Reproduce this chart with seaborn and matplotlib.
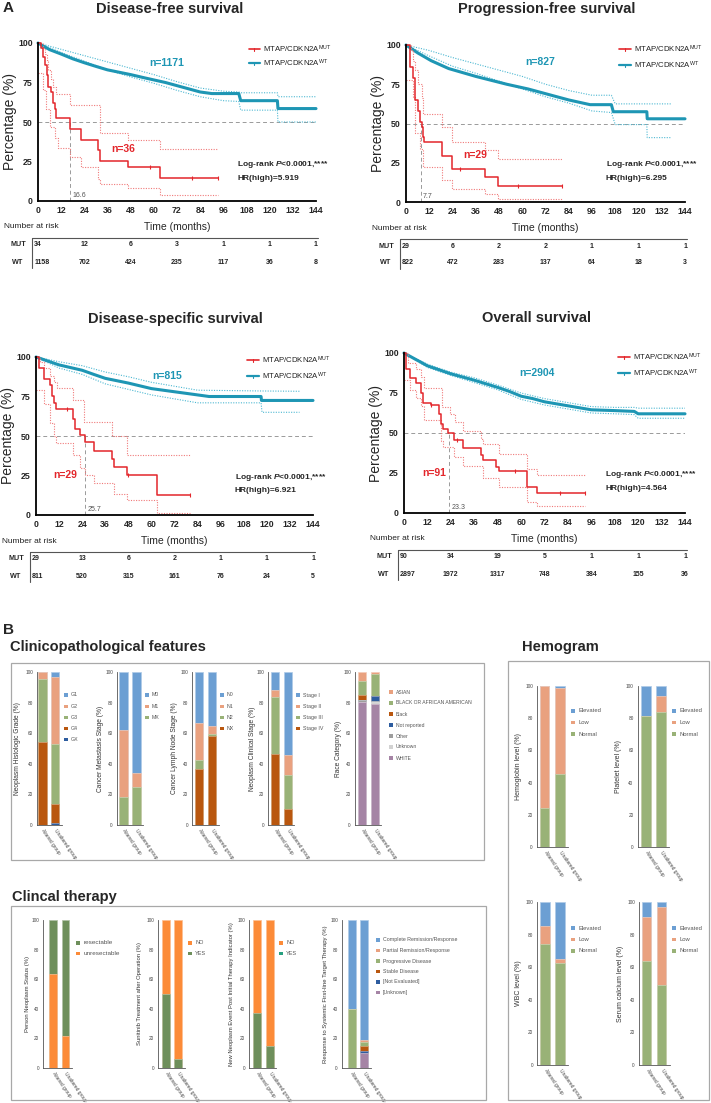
import numpy as np
import pandas as pd
import matplotlib.pyplot as plt
import matplotlib.transforms as mtrans
from matplotlib.lines import Line2D
from matplotlib.patches import Rectangle
from matplotlib.colors import to_rgb
import seaborn as sns

sns.set_style('white')
plt.rcParams['font.family'] = ['Liberation Sans', 'DejaVu Sans']
plt.rcParams['mathtext.fontset'] = 'custom'
plt.rcParams['mathtext.rm'] = 'Liberation Sans'
plt.rcParams['mathtext.bf'] = 'Liberation Sans:bold'
plt.rcParams['mathtext.it'] = 'Liberation Sans:italic'
plt.rcParams['mathtext.bfit'] = 'Liberation Sans:italic:bold'

W, H = 711, 1103

# ---------------- A: Kaplan-Meier data (time in months, survival in %) ----------------
months = [0, 24, 48, 72, 96, 120, 144]

dfs_mut = [(0, 100), (1.7, 97), (2.6, 91), (3.5, 86), (4.5, 80), (5.2, 72), (6.9, 69), (7.8, 62),
           (8.7, 58), (9.5, 52.6), (16.4, 45.5), (22.5, 38.5), (31.1, 32), (32, 25.5),
           (46.7, 21.5), (63.1, 14.3), (93.4, 14.3)]
dfs_mut_hi = [(0, 100), (2.6, 97), (3.5, 93), (4.5, 89), (5.2, 83), (6.9, 77), (7.8, 72), (9.5, 68),
              (16.4, 61), (32, 43), (46.7, 38.5), (63.1, 33), (93.4, 33)]
dfs_mut_lo = [(0, 81), (2.6, 70), (4.3, 58), (6, 47), (8.7, 40), (10.4, 33.5), (16.4, 28), (22.5, 21.5),
              (31.1, 14), (32, 11), (46.7, 8.5), (63.1, 3.5), (93.4, 3.5)]
dfs_mut_cens = [(58, 21.5), (80, 14.3), (93.4, 14.3)]
dfs_wt = [(0, 100), (6, 95.8), (12, 93), (18, 90), (24, 87.5), (30, 85.2), (36, 83), (48, 80), (55, 78),
          (66, 75), (75, 72), (84, 69), (90, 68), (104, 68), (105, 63.5), (124, 63.5), (124.3, 58.5),
          (144, 58.5)]
dfs_wt_hi = [(0, 100), (12, 96), (24, 92), (36, 88), (48, 84), (60, 80), (72, 75.5), (84, 71.5),
             (96, 69.5), (104, 69), (105, 68.5), (124, 68.5), (124.3, 66), (144, 66)]
dfs_wt_lo = [(0, 100), (12, 94), (24, 88.5), (36, 83), (48, 78.5), (60, 74.5), (72, 70), (84, 66),
             (96, 63.5), (104, 63), (105, 57.5), (124, 57.5), (124.3, 50), (144, 50)]
dfs_risk_mut = [34, 12, 6, 3, 1, 1, 1]
dfs_risk_wt = [1158, 702, 424, 235, 117, 36, 8]

pfs_mut = [(0, 100), (2, 86), (3.8, 79), (4.6, 65), (6.4, 58), (7.2, 51), (8.1, 48), (9, 41.5),
           (9.5, 38), (18.4, 29.5), (23.6, 21), (40.8, 16), (47.7, 10.5), (80.4, 10.5)]
pfs_mut_hi = [(0, 100), (2.5, 97), (3.8, 90), (4.6, 84), (6.4, 75), (8, 66), (9, 56), (18.4, 48),
              (23.6, 38.5), (40.8, 33), (47.7, 27.5), (80.4, 27.5)]
pfs_mut_lo = [(0, 78), (3.8, 67), (4.6, 44), (7, 34), (9, 22), (18.4, 14), (23.6, 8), (40.8, 5),
              (47.7, 2), (80.4, 2)]
pfs_mut_cens = [(28, 21), (58, 10.5), (80.4, 10.5)]
pfs_wt = [(0, 100), (6, 95), (13, 90), (22, 85), (36, 80), (52, 75), (63, 72), (75, 68), (84, 65),
          (95, 62), (106, 62), (107, 57.5), (124.3, 57.5), (124.5, 53), (144, 53)]
pfs_wt_hi = [(0, 100), (12, 96.5), (24, 92), (36, 88), (48, 84), (60, 80), (72, 75), (84, 71),
             (96, 68), (106, 68), (108, 62.5), (137, 62.5)]
pfs_wt_lo = [(0, 100), (12, 93), (24, 86.5), (36, 82), (48, 77), (60, 72), (72, 67), (84, 63),
             (96, 58), (106, 57), (108, 49.3), (124.3, 49.3), (124.5, 41), (137, 41)]
pfs_risk_mut = [29, 6, 2, 2, 1, 1, 1]
pfs_risk_wt = [822, 472, 283, 137, 64, 18, 3]

dss_mut = [(0, 100), (1.7, 93), (4, 86), (7.1, 82), (8.3, 75.5), (9.5, 71), (10.5, 67), (19.2, 61),
           (20.4, 54.5), (23, 50.5), (25.6, 46), (30.4, 40.5), (39.4, 35.5), (40.3, 30.5),
           (47.2, 25.5), (62.7, 12.8), (80, 12.8)]
dss_mut_hi = [(0, 100), (2, 97), (4, 93), (7.1, 88), (9.5, 84), (10.9, 80.5), (19.2, 72.6),
              (24.7, 59), (39.4, 50), (47.2, 38), (80, 38)]
dss_mut_lo = [(0, 79), (4, 70), (7.1, 58), (9.5, 50), (10.5, 45.5), (19.2, 38), (23, 30),
              (25.6, 25.5), (30.4, 20.5), (40.3, 13), (47.2, 9.8), (62.7, 1.4), (80, 1.4)]
dss_mut_cens = [(16, 67), (48, 25.5), (80, 12.8)]
dss_wt = [(0, 100), (6, 97.5), (12, 95), (24, 91.6), (30, 89), (36, 86.5), (48, 83.5), (60, 80),
          (72, 78), (84, 76), (90, 75), (117, 75), (117.2, 72.5), (144, 72.5)]
dss_wt_hi = [(0, 100), (12, 97), (24, 94.5), (36, 90.5), (48, 87.5), (60, 84), (72, 81.5), (84, 79),
             (117, 78.5), (137, 78.3)]
dss_wt_lo = [(0, 100), (12, 93), (24, 89), (36, 83), (48, 79.5), (60, 76), (72, 73.5), (84, 71),
             (117, 71), (117.5, 65), (137, 65)]
dss_risk_mut = [29, 13, 6, 2, 1, 1, 1]
dss_risk_wt = [811, 520, 315, 161, 76, 24, 5]

os_mut = [(0, 100), (0.9, 90), (2.9, 84.5), (6.3, 81), (8.5, 75), (9.7, 68.5), (14, 67.5), (18, 62),
          (18.8, 55.5), (20, 52.5), (22.6, 50), (25.7, 45.5), (30.3, 40.5), (39.3, 36), (40.5, 33),
          (47.4, 29), (48.6, 26), (62.8, 16), (68.4, 12.5), (93, 12.5)]
os_mut_hi = [(0, 100), (2, 94), (6, 90), (8.5, 85), (10, 78), (19.5, 66), (23.4, 62), (26, 57),
             (30.3, 51.5), (39.3, 46), (40.5, 43), (48.6, 37), (62.8, 27.5), (68.4, 24), (93, 24)]
os_mut_lo = [(0, 83), (3, 77), (6, 72), (8.5, 67), (10, 58), (18.8, 45), (20, 41), (25.7, 35),
             (30.3, 29.5), (40.5, 22), (48.6, 16.5), (62.8, 7), (68.4, 4.5), (93, 4.5)]
os_mut_cens = [(14, 67.5), (27, 45.5), (57, 26), (80, 12.5), (93, 12.5)]
os_wt = [(0, 100), (6, 96), (12, 92), (24, 87), (36, 83), (48, 78.5), (54, 76), (60, 73), (66, 71.5),
         (72, 69.5), (84, 67), (96, 64.5), (108, 64), (118, 63.5), (120, 62), (144, 62)]
os_wt_hi = [(0, 100), (12, 93), (24, 88), (36, 84.5), (48, 80), (60, 75), (72, 71.5), (84, 69),
            (96, 66.5), (108, 66), (118, 66), (120, 65.5), (144, 65.5)]
os_wt_lo = [(0, 100), (12, 91), (24, 86), (36, 81.5), (48, 77), (60, 71), (72, 67.5), (84, 65),
            (96, 62.5), (108, 62), (118, 61.5), (120, 59.2), (144, 59.2)]
os_risk_mut = [90, 34, 19, 5, 1, 1, 1]
os_risk_wt = [2897, 1972, 1317, 748, 384, 155, 36]

# ---------------- B: stacked bar data (% per group), bottom -> top ----------------
groups = ['Altered group', 'Unaltered group']

grade_names = ['GX', 'G4', 'G3', 'G2', 'G1']
grade_vals = [[0, 1.0], [54.3, 12.5], [41.2, 39.2], [4.5, 44.3], [0, 3.0]]
meta_names = ['MX', 'M1', 'M0']
meta_vals = [[18.5, 24.6], [43.9, 9.7], [37.6, 65.7]]
node_names = ['NX', 'N2', 'N1', 'N0']
node_vals = [[36.3, 58.0], [6.5, 1.8], [23.9, 4.8], [33.3, 35.4]]
stage_names = ['Stage IV', 'Stage III', 'Stage II', 'Stage I']
stage_vals = [[46.1, 10.4], [37.6, 22.4], [4.3, 12.8], [12.0, 54.4]]
race_names = ['WHITE', 'Unknown', 'Other', 'Not reported', 'Black',
              'BLACK OR AFRICAN AMERICAN', 'ASIAN']
race_vals = [[80.5, 79.3], [0, 1.0], [1.5, 0.8], [0, 2.9], [3.0, 0.5], [9.0, 14.0], [6.0, 1.5]]

hemo_names = ['Normal', 'Low', 'Elevated']
hgb_vals = [[24.5, 45.4], [75.5, 53.4], [0, 1.2]]
plt_vals = [[81.2, 83.7], [0, 9.9], [18.8, 6.4]]
wbc_vals = [[74.0, 62.7], [11.0, 2.1], [15.0, 35.2]]
ca_vals = [[63.5, 49.0], [27.1, 48.0], [9.4, 3.0]]

status_names = ['unresectable', 'resectable']
status_vals = [[63.4, 21.4], [36.6, 78.6]]
yesno_names = ['YES', 'NO']
suni_vals = [[49.9, 5.9], [50.1, 94.1]]
newneo_vals = [[37.5, 14.9], [62.5, 85.1]]
resp_names = ['[Unknown]', '[Not Evaluated]', 'Stable Disease', 'Progressive Disease',
              'Partial Remission/Response', 'Complete Remission/Response']
resp_vals = [[0, 10.4], [0, 0.9], [0, 3.6], [39.7, 2.7], [0, 1.6], [60.3, 80.8]]

RED, RED_CI = '#e3262b', '#f07a7a'
TEAL, TEAL_CI = '#1e96b4', '#4db8d2'
C_BLUE, C_SAL, C_GRN, C_BRN = '#6c9fd3', '#e9a17f', '#99b277', '#b9570f'
C_DBL, C_GRY, C_LGR, C_PUR = '#2d5c9f', '#9d9d9d', '#d2d2d2', '#a584a5'
C_ORG, C_DGN = '#fc8b38', '#6e8f5b'

fig = plt.figure(figsize=(W / 100, H / 100), dpi=100)


def rect(l, t, r, b):
    return [l / W, 1 - b / H, (r - l) / W, (b - t) / H]


def ftext(x, y, s, **kw):
    return fig.text(x / W, 1 - y / H, s, **kw)


def fline(xs, ys, **kw):
    fig.add_artist(Line2D([x / W for x in xs], [1 - y / H for y in ys],
                          transform=fig.transFigure, **kw))


def light(c, f=0.45):
    r, g, b = to_rgb(c)
    return (r + (1 - r) * f, g + (1 - g) * f, b + (1 - b) * f)


def curve(ax, pts, color, lw, ls='-', step=True):
    df = pd.DataFrame(pts, columns=['time', 'surv'])
    sns.lineplot(data=df, x='time', y='surv', ax=ax, color=color, linewidth=lw, linestyle=ls,
                 drawstyle='steps-post' if step else 'default', estimator=None, sort=False,
                 clip_on=False)


def km_panel(box, title, title_xy, mut, mut_hi, mut_lo, cens, wt, wt_hi, wt_lo, median,
             n_mut, n_wt, n_mut_xy, n_wt_xy, stat_xy, hr, risk_mut, risk_wt, leg):
    l, t, r, b = box
    ax = fig.add_axes(rect(l, t, r, b))
    dot = (0, (1, 1.3))
    ax.plot([0, 144], [50, 50], color='#9a9a9a', lw=0.7, ls=(0, (4, 3)))
    ax.plot([median, median], [0, 50], color='#9a9a9a', lw=0.7, ls=(0, (4, 3)))
    curve(ax, wt_hi, TEAL_CI, 0.8, dot, step=False)
    curve(ax, wt_lo, TEAL_CI, 0.8, dot, step=False)
    curve(ax, wt, TEAL, 2.2, step=False)
    curve(ax, mut_hi, RED_CI, 0.8, dot)
    curve(ax, mut_lo, RED_CI, 0.8, dot)
    curve(ax, mut, RED, 1.1)
    cdf = pd.DataFrame(cens, columns=['time', 'surv'])
    sns.scatterplot(data=cdf, x='time', y='surv', ax=ax, marker='|', s=12, color=RED,
                    linewidth=0.8, clip_on=False)
    ax.text(median + 1, 1.5, f'{median}', fontsize=5, color='#555555', ha='left', va='bottom')
    ax.set_xlim(0, 144)
    ax.set_ylim(0, 100)
    ax.set_xticks(range(0, 145, 12), labels=[str(v) for v in range(0, 145, 12)],
                  fontsize=6.3, fontweight='bold')
    ax.set_yticks([0, 25, 50, 75, 100], labels=['0', '25', '50', '75', '100'],
                  fontsize=6.3, fontweight='bold')
    ax.tick_params(length=2.5, width=1, pad=1.2, color='black')
    ax.set_xlabel('')
    ax.set_ylabel('')
    sns.despine(ax=ax)
    for s in ['left', 'bottom']:
        ax.spines[s].set_linewidth(1.3)
        ax.spines[s].set_color('black')

    ftext(title_xy[0], title_xy[1], title, fontsize=10.5, fontweight='bold', ha='center', va='center')
    ftext(l - 28, (t + b) / 2, 'Percentage (%)', fontsize=10, rotation=90, ha='center', va='center')
    ftext((l + r) / 2, b + 26, 'Time (months)', fontsize=7.5, ha='center', va='center')
    ftext(l - 34, b + 26, 'Number at risk', fontsize=6, ha='left', va='center', color='#222222')

    ftext(n_wt_xy[0], n_wt_xy[1], f'n={n_wt}', fontsize=7.5, fontweight='bold', color=TEAL,
          ha='center', va='center')
    ftext(n_mut_xy[0], n_mut_xy[1], f'n={n_mut}', fontsize=7.5, fontweight='bold', color=RED,
          ha='center', va='center')
    ftext(stat_xy[0], stat_xy[1], r'Log-rank $\mathbfit{P}$<0.0001,****',
          fontsize=6, fontweight='bold', ha='left', va='center')
    ftext(stat_xy[0], stat_xy[1] + 14, f'HR(high)={hr}', fontsize=6, fontweight='bold',
          ha='left', va='center')

    # legend
    lx0, lx1, ly0, ly1 = leg
    for yy, c, lab in [(ly0, RED, 'MUT'), (ly1, TEAL, 'WT')]:
        fline([lx0, lx1], [yy, yy], color=c, lw=1.2 if c == RED else 1.6)
        fline([(lx0 + lx1) / 2] * 2, [yy - 1.5, yy + 1.5], color=c, lw=0.8)
        ftext(lx1 + 3, yy, r'MTAP/CDKN2A$^{\mathregular{' + lab + '}}$', fontsize=5.6,
              ha='left', va='center', color='#222222')

    # number at risk table
    top = b + 37
    fline([l - 6, l - 6], [top, b + 67], color='#555555', lw=0.8)
    fline([l - 6, r + 2], [top, top], color='#555555', lw=0.8)
    tr = mtrans.blended_transform_factory(ax.transData, fig.transFigure)
    for yy, lab, vals in [(b + 44, 'MUT', risk_mut), (b + 61, 'WT', risk_wt)]:
        ftext(l - 20, yy, lab, fontsize=5.2, fontweight='bold', ha='center', va='center')
        for i, (m, v) in enumerate(zip(months, vals)):
            ax.text(-2 if i == 0 else m, 1 - yy / H, str(v), transform=tr, fontsize=5,
                    fontweight='bold', ha='left' if i == 0 else 'center', va='center',
                    color='#222222')
    return ax


ftext(3, 8, 'A', fontsize=11, fontweight='bold', ha='left', va='center')
km_panel((38, 43, 316, 201), 'Disease-free survival', (170, 9), dfs_mut, dfs_mut_hi, dfs_mut_lo,
         dfs_mut_cens, dfs_wt, dfs_wt_hi, dfs_wt_lo, 16.6, 36, 1171, (123, 149), (167, 63),
         (237, 165), 5.919, dfs_risk_mut, dfs_risk_wt, (249, 260, 49, 63))
km_panel((406, 45, 685, 202), 'Progression-free survival', (547, 9), pfs_mut, pfs_mut_hi, pfs_mut_lo,
         pfs_mut_cens, pfs_wt, pfs_wt_hi, pfs_wt_lo, 7.7, 29, 827, (475, 155), (540, 62),
         (606, 165), 6.295, pfs_risk_mut, pfs_risk_wt, (619, 631, 49, 65))
km_panel((36, 357, 313, 515), 'Disease-specific survival', (175, 319), dss_mut, dss_mut_hi, dss_mut_lo,
         dss_mut_cens, dss_wt, dss_wt_hi, dss_wt_lo, 25.7, 29, 815, (65, 475), (167, 376),
         (235, 477), 6.921, dss_risk_mut, dss_risk_wt, (247, 259, 360, 376))
km_panel((404, 353, 685, 513), 'Overall survival', (536, 318), os_mut, os_mut_hi, os_mut_lo,
         os_mut_cens, os_wt, os_wt_hi, os_wt_lo, 23.3, 91, 2904, (434, 473), (537, 373),
         (605, 474), 4.564, os_risk_mut, os_risk_wt, (618, 630, 357, 373))

# ---------------- B ----------------
ftext(3, 630, 'B', fontsize=11, fontweight='bold', ha='left', va='center')


def bar_panel(px, top, bottom, bw, names, vals, colors, ylabel, ylab_x, ylab_fs,
              leg_x, leg_y0, leg_dy, leg_fs, leg_colors=None):
    spine, c1, c2, right = px
    u = c2 - c1
    ax = fig.add_axes(rect(spine, top, right, bottom))
    cum = np.cumsum(np.array(vals, dtype=float), axis=0)
    for i in range(len(vals) - 1, -1, -1):
        sns.barplot(x=groups, y=cum[i], color=colors[i], saturation=1, width=bw / u,
                    edgecolor=light(colors[i]), linewidth=0.5, errorbar=None, ax=ax)
    ax.set_xlim((spine - c1) / u, 1 + (right - c2) / u)
    ax.set_ylim(0, 100)
    ax.set_yticks(range(0, 101, 20), labels=[str(v) for v in range(0, 101, 20)], fontsize=3.4,
                  color='#444444')
    ax.set_xticks([0, 1])
    ax.set_xticklabels(groups, rotation=-55, ha='left', va='center', rotation_mode='anchor',
                       fontsize=3.5, color='#444444')
    ax.tick_params(length=1.5, width=0.5, pad=1.5, color='#555555')
    ax.set_xlabel('')
    ax.set_ylabel('')
    sns.despine(ax=ax)
    for s in ['left', 'bottom']:
        ax.spines[s].set_linewidth(0.6)
        ax.spines[s].set_color('#555555')
    ftext(ylab_x, (top + bottom) / 2, ylabel, fontsize=ylab_fs, rotation=90, ha='center',
          va='center', color='#333333')
    lc = leg_colors if leg_colors else colors
    sq = leg_fs * 0.85
    for k, i in enumerate(range(len(names) - 1, -1, -1)):
        yy = leg_y0 + k * leg_dy
        fig.add_artist(Rectangle(((leg_x - sq / 2) / W, 1 - (yy + sq / 2) / H), sq / W, sq / H,
                                 transform=fig.transFigure, color=lc[i], lw=0))
        ftext(leg_x + sq / 2 + 3.5, yy, names[i], fontsize=leg_fs, ha='left', va='center',
              color='#555555')


def box(l, t, r, b):
    fig.add_artist(Rectangle((l / W, 1 - b / H), (r - l) / W, (b - t) / H, transform=fig.transFigure,
                             fill=False, ec='#a8a8a8', lw=0.9))


ftext(10, 647, 'Clinicopathological features', fontsize=10.5, fontweight='bold', ha='left', va='center')
box(11, 663, 484, 860)
ct, cb = 672, 825
bar_panel((37, 42.5, 55, 62), ct, cb, 8.5, grade_names, grade_vals,
          [C_DBL, C_BRN, C_GRN, C_SAL, C_BLUE], 'Neoplasm Histologic Grade (%)', 18, 4.8,
          66, 695, 11.2, 3.8)
bar_panel((117, 123.3, 136.5, 143), ct, cb, 8.5, meta_names, meta_vals,
          [C_GRN, C_SAL, C_BLUE], 'Cancer Metastasis Stage (%)', 100, 4.8, 147, 695, 11.2, 3.8)
bar_panel((192.3, 199.2, 211.8, 219), ct, cb, 8.5, node_names, node_vals,
          [C_BRN, C_GRN, C_SAL, C_BLUE], 'Cancer Lymph Node Stage (%)', 175, 4.8, 222, 695, 11.2, 3.8)
bar_panel((268.3, 275.2, 287.8, 294), ct, cb, 8.5, stage_names, stage_vals,
          [C_BRN, C_GRN, C_SAL, C_BLUE], 'Neoplasm Clinical Stage (%)', 252, 4.8, 298, 695, 11.2, 3.8)
bar_panel((355, 362, 375, 381), ct, cb, 8.5, race_names, race_vals,
          [C_PUR, C_LGR, C_GRY, C_DBL, C_BRN, C_GRN, C_SAL], 'Race Category (%)', 338, 4.8,
          391, 692, 11, 3.6)

ftext(560, 647, 'Hemogram', fontsize=10.5, fontweight='bold', ha='center', va='center')
box(508, 661, 709, 1100)
hemo_cols = [C_GRN, C_SAL, C_BLUE]
bar_panel((537, 544.7, 560, 568), 686, 847, 9.5, hemo_names, hgb_vals, hemo_cols,
          'Hemoglobin level (%)', 518, 5, 573, 711, 11.5, 4.2)
bar_panel((637.7, 645.8, 661, 669), 686, 847, 9.5, hemo_names, plt_vals, hemo_cols,
          'Platelet level (%)', 619, 5, 674, 711, 11.5, 4.2)
bar_panel((537.3, 545, 560, 568), 902, 1065, 9.5, hemo_names, wbc_vals, hemo_cols,
          'WBC level (%)', 519, 5, 573, 928, 11.5, 4.2)
bar_panel((639, 646.7, 661.7, 670), 902, 1065, 9.5, hemo_names, ca_vals, hemo_cols,
          'Serum calcium level (%)', 620, 5, 674, 928, 11.5, 4.2)

ftext(12, 897, 'Clincal therapy', fontsize=10.5, fontweight='bold', ha='left', va='center')
box(11, 906, 486, 1100)
tt, tb = 920, 1068
bar_panel((43.3, 52.8, 65.5, 71.7), tt, tb, 7.7, status_names, status_vals, [C_ORG, C_DGN],
          'Person Neoplasm Status (%)', 28, 4.2, 78, 943, 10.5, 4.6)
bar_panel((158.3, 166.2, 178.3, 185), tt, tb, 8, yesno_names, suni_vals, [C_DGN, C_ORG],
          'Sunitinib Treatment after Operation (%)', 140, 4.2, 190, 943, 10.5, 4)
bar_panel((249.3, 256.8, 269.8, 276), tt, tb, 8, yesno_names, newneo_vals, [C_DGN, C_ORG],
          'New Neoplasm Event Post Initial Therapy Indicator (%)', 232, 4.2, 281, 943, 10.5, 4,
          leg_colors=['#27a07f', C_ORG])
bar_panel((342, 351.5, 364.2, 371), tt, tb, 8, resp_names, resp_vals,
          [C_PUR, C_DBL, C_BRN, C_GRN, C_SAL, C_BLUE],
          'Response to Systemic First-line Target Therapy (%)', 325, 4.3, 378, 940, 10.5, 3.8)

fig.savefig('out.png', dpi=100)
